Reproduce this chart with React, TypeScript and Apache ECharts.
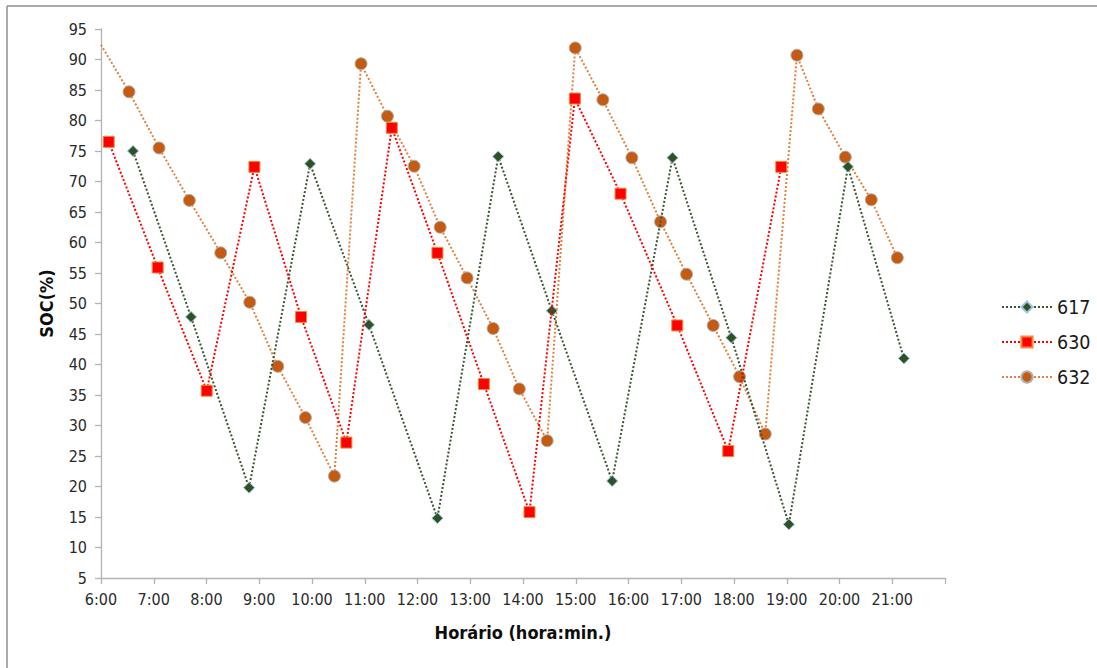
import React, { useEffect, useRef } from "react";
import * as echarts from "echarts";

// Time of each reading, in decimal hours
const times617 = [6.607, 7.707, 8.807, 9.964, 11.08, 12.378, 13.53, 14.547, 15.69, 16.834, 17.95, 19.04, 20.16, 21.22];
const soc617 = [75.0, 47.8, 19.8, 72.9, 46.5, 14.8, 74.1, 48.8, 20.9, 73.9, 44.4, 13.8, 72.4, 41.0];

const times630 = [6.146, 7.075, 8.004, 8.908, 9.793, 10.652, 11.513, 12.378, 13.258, 14.123, 14.983, 15.849, 16.924, 17.891, 18.896];
const soc630 = [76.5, 55.9, 35.7, 72.4, 47.8, 27.2, 78.8, 58.3, 36.8, 15.8, 83.6, 68.0, 46.4, 25.8, 72.4];

const times632 = [6.0, 6.531, 7.1, 7.675, 8.27, 8.82, 9.351, 9.875, 10.425, 10.93, 11.43, 11.936, 12.43, 12.94, 13.434, 13.93, 14.458, 14.99, 15.514, 16.064, 16.607, 17.1, 17.606, 18.105, 18.592, 19.193, 19.598, 20.11, 20.603, 21.096];
const soc632 = [92.4, 84.7, 75.5, 66.9, 58.3, 50.2, 39.7, 31.3, 21.7, 89.3, 80.7, 72.5, 62.5, 54.2, 45.9, 36.0, 27.5, 91.9, 83.4, 73.9, 63.4, 54.8, 46.4, 38.0, 28.6, 90.7, 81.9, 74.0, 67.0, 57.5];

const seriesNames = ["617", "630", "632"];
const xMin = 6;
const xMax = 22;
const yMin = 5;
const yMax = 95;

const FONT = "'Liberation Sans Narrow', 'DejaVu Sans Condensed', 'Liberation Sans', sans-serif";

function zip(xs: number[], ys: number[]) {
  return xs.map((x, i) => [x, ys[i]]);
}

export default function App() {
  const ref = useRef<HTMLDivElement>(null);

  useEffect(() => {
    if (!ref.current) return;
    const chart = echarts.init(ref.current, null, { renderer: "svg" });

    const data632: any[] = zip(times632, soc632).map((p, i) =>
      i === 0 ? { value: p, symbol: "none" } : p
    );

    chart.setOption({
      animation: false,
      backgroundColor: "#ffffff",
      textStyle: { fontFamily: FONT },
      grid: { left: 101, right: 152, top: 29, bottom: 90, containLabel: false },
      legend: {
        orient: "vertical",
        left: 996,
        top: 292,
        itemWidth: 50,
        itemHeight: 14,
        itemGap: 15,
        textStyle: { fontFamily: FONT, fontSize: 19.5, color: "#1a1a1a" },
        data: seriesNames,
      },
      xAxis: {
        type: "value",
        min: xMin,
        max: xMax,
        interval: 1,
        name: "Horário (hora:min.)",
        nameLocation: "middle",
        nameGap: 45,
        nameTextStyle: { fontFamily: FONT, fontSize: 18, fontWeight: "bold", color: "#0d0d0d" },
        splitLine: { show: false },
        axisLine: { show: true, lineStyle: { color: "#b3b3b3", width: 1.3 } },
        axisTick: { show: true, length: 6, lineStyle: { color: "#b3b3b3", width: 1.3 } },
        axisLabel: {
          margin: 13,
          fontSize: 16,
          color: "#2a2a2a",
          fontFamily: FONT,
          formatter: (v: number) => (v >= xMax ? "" : `${v}:00`),
        },
      },
      yAxis: {
        type: "value",
        min: yMin,
        max: yMax,
        interval: 5,
        name: "SOC(%)",
        nameLocation: "middle",
        nameRotate: 90,
        nameGap: 46,
        nameTextStyle: { fontFamily: FONT, fontSize: 18, fontWeight: "bold", color: "#0d0d0d" },
        splitLine: { show: false },
        axisLine: { show: true, lineStyle: { color: "#b3b3b3", width: 1.3 } },
        axisTick: { show: true, length: 6, lineStyle: { color: "#b3b3b3", width: 1.3 } },
        axisLabel: { margin: 14, fontSize: 16, color: "#2a2a2a", fontFamily: FONT },
      },
      graphic: [
        { type: "line", shape: { x1: 7, y1: 6, x2: 1097, y2: 6 }, style: { stroke: "#8e8e8e", lineWidth: 1.5 } },
        { type: "line", shape: { x1: 7, y1: 6, x2: 7, y2: 668 }, style: { stroke: "#8e8e8e", lineWidth: 1.5 } },
      ],
      series: [
        {
          name: seriesNames[0],
          type: "line",
          data: zip(times617, soc617),
          symbol: "diamond",
          symbolSize: 11,
          lineStyle: { color: "#3a5530", width: 2, type: "dotted" },
          itemStyle: { color: "#2f5222", borderColor: "#9dc3e6", borderWidth: 1 },
          z: 3,
        },
        {
          name: seriesNames[1],
          type: "line",
          data: zip(times630, soc630),
          symbol: "rect",
          symbolSize: 11,
          lineStyle: { color: "#ff0000", width: 2, type: "dotted" },
          itemStyle: { color: "#ff0000", borderColor: "#f08a3c", borderWidth: 1 },
          z: 4,
        },
        {
          name: seriesNames[2],
          type: "line",
          data: data632,
          symbol: "circle",
          symbolSize: 12,
          lineStyle: { color: "#e0823d", width: 2, type: "dotted" },
          itemStyle: { color: "#c55a11", borderColor: "#b0b0b0", borderWidth: 1 },
          z: 2,
        },
      ],
    });

    return () => chart.dispose();
  }, []);

  return (
    <div
      ref={ref}
      style={{ position: "fixed", left: 0, top: 0, width: 1097, height: 668 }}
    />
  );
}
